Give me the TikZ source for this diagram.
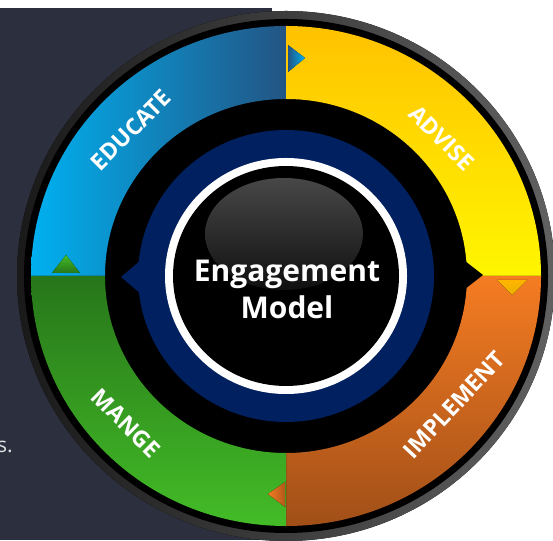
\documentclass[tikz,border=0pt]{standalone}
\usepackage{fontspec}
\setmainfont{Open Sans}
\usetikzlibrary{calc}

\definecolor{panel}{HTML}{2C303E}
\definecolor{navy}{HTML}{002060}
\definecolor{skyblue}{HTML}{00B0F0}
\definecolor{steelblue}{HTML}{235584}
\definecolor{gold}{HTML}{FFC200}
\definecolor{darkgold}{HTML}{EAB000}
\definecolor{lemon}{HTML}{FFF600}
\definecolor{orangetop}{HTML}{F57C22}
\definecolor{orangebot}{HTML}{A14F18}
\definecolor{greentop}{HTML}{27761A}
\definecolor{greenbot}{HTML}{43BC27}

% one quarter of the coloured ring
\newcommand\ringpart[3]{%
  \fill[#3] ($(c)+(#1:255 and 250)$)
    arc[start angle=#1, end angle=#2, x radius=255, y radius=250]
    -- ($(c)+(#2:181 and 177)$)
    arc[start angle=#2, end angle=#1, x radius=181, y radius=177] -- cycle;}

\tikzset{
  seglabel/.style={text=white, inner sep=0pt, font=\bfseries\fontsize{23}{23}\selectfont},
  corelabel/.style={text=white, align=center, inner sep=0pt, font=\bfseries\fontsize{30}{37}\selectfont},
}

\begin{document}
\begin{tikzpicture}[x=1pt,y=1pt]
\useasboundingbox (0,0) rectangle (553,540);
\coordinate (c) at (286,264);

% dark panel behind
\fill[panel] (0,0) rectangle (272,531.5);
\node[anchor=east, text=black!12, inner sep=0pt, font=\fontsize{21}{21}\selectfont] (tail) at (13,93) {s.};

% rim
\fill[left color=black!90, middle color=black!66, right color=black!62] (c) ellipse [x radius=269, y radius=265];
\fill[black] (c) ellipse [x radius=262, y radius=257];

% coloured ring
\ringpart{90}{180}{left color=skyblue, right color=steelblue}
\ringpart{0}{90}{top color=gold, middle color=darkgold, bottom color=lemon}
\ringpart{-90}{0}{top color=orangetop, bottom color=orangebot}
\ringpart{180}{270}{top color=greentop, bottom color=greenbot}

% small arrow heads between the parts
\fill[left color=steelblue, right color=skyblue] (288,495) -- (305,482) -- (288,468) -- cycle;
\fill[top color=gold!80!orange, bottom color=darkgold] (497,260) -- (512,245) -- (527,260) -- cycle;
\fill[left color=orangetop, right color=orangebot!80!orangetop] (285,58) -- (268,46) -- (285,33) -- cycle;
\fill[top color=greenbot, bottom color=greentop] (52,267) -- (66,285) -- (80,267) -- cycle;
\fill[black] (465,279) -- (483,265) -- (465,251) -- cycle;

% inner rings
\fill[navy] (c) ellipse [x radius=148, y radius=146];
\fill[navy] (141,280) -- (121,263) -- (141,246) -- cycle;
\fill[white] (c) ellipse [x radius=121, y radius=118];
\fill[black] (c) ellipse [x radius=113, y radius=110];
\fill[top color=black!72, bottom color=black!94] (284,306) ellipse [x radius=79, y radius=56];

% labels
\node[corelabel] (core) at (287,251) {Engagement\\Model};
\node[seglabel, rotate=45] (educate) at (131,410) {EDUCATE};
\node[seglabel, rotate=-45] (advise) at (442,402) {ADVISE};
\node[seglabel, rotate=47] (implement) at (454,135) {IMPLEMENT};
\node[seglabel, rotate=-45] (mange) at (126,117) {MANGE};
\end{tikzpicture}
\end{document}
